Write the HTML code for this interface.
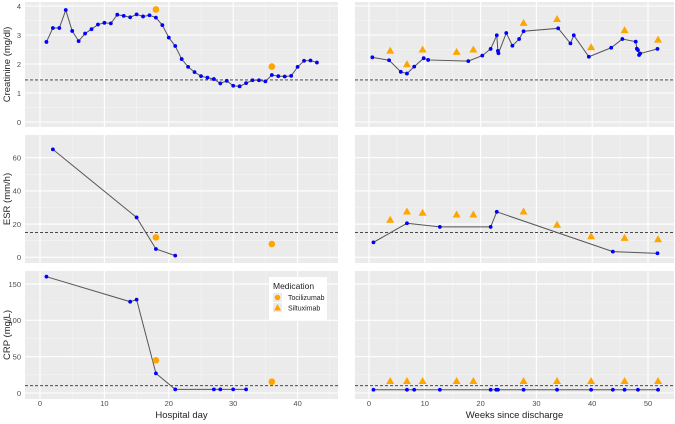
<!DOCTYPE html>
<html><head><meta charset="utf-8"><style>
html,body{margin:0;padding:0;background:#fff}
svg{display:block;font-family:"Liberation Sans",sans-serif}
</style></head><body>
<svg id="c" width="675" height="424" viewBox="0 0 675 424"></svg>
<script>
const creatHospDays=[1,2,3,4,5,6,7,8,9,10,11,12,13,14,15,16,17,18,19,20,21,22,23,24,25,26,27,28,29,30,31,32,33,34,35,36,37,38,39,40,41,42,43];
const creatHospVals=[2.76,3.24,3.24,3.86,3.14,2.79,3.05,3.2,3.36,3.42,3.40,3.70,3.66,3.61,3.71,3.64,3.68,3.60,3.34,2.91,2.62,2.17,1.90,1.72,1.58,1.53,1.48,1.33,1.42,1.25,1.23,1.34,1.44,1.44,1.40,1.62,1.58,1.57,1.59,1.90,2.11,2.12,2.05];
const creatTociDays=[18,36];
const creatTociVals=[3.88,1.91];
const creatWeeks=[0.6,3.6,5.7,6.8,8.1,9.8,10.6,17.8,20.3,21.8,22.9,23.1,23.2,24.6,25.7,26.9,27.7,33.9,36.1,36.7,39.4,43.4,45.4,47.8,48.0,48.2,48.4,48.6,51.7];
const creatWeekVals=[2.23,2.13,1.73,1.67,1.91,2.2,2.14,2.1,2.29,2.52,2.99,2.45,2.37,3.07,2.63,2.86,3.13,3.23,2.71,2.99,2.25,2.56,2.86,2.77,2.53,2.48,2.31,2.36,2.52];
const siltWeeks=[3.8,6.8,9.6,15.7,18.7,27.7,33.7,39.8,45.8,51.8];
const creatSiltVals=[2.46,1.99,2.5,2.42,2.5,3.42,3.55,2.58,3.17,2.84];
const esrHospDays=[2,15,18,21];
const esrHospVals=[65,24,5,1];
const esrTociDays=[18,36];
const esrTociVals=[12,8];
const esrWeeks=[0.8,6.8,12.7,21.8,22.9,43.7,51.7];
const esrWeekVals=[9,20.5,18.3,18.3,27.4,3.4,2.4];
const esrSiltVals=[22.6,27.6,26.8,25.8,25.8,27.6,19.6,12.7,11.7,10.9];
const crpHospDays=[1,14,15,18,21,27,28,30,32];
const crpHospVals=[160,125.6,128.4,27,5,5,5,5,5];
const crpTociDays=[18,36];
const crpTociVals=[45,15.5];
const crpWeeks=[0.8,6.8,8.1,12.7,21.8,22.8,23.1,27.7,33.7,39.8,43.7,45.8,48.2,51.8];
const crpWeekVals=[4.5,4.5,4.5,4.5,4.5,4.5,4.5,4.5,4.5,4.5,4.5,4.5,4.5,4.5];
const crpSiltVals=[16.5,16.5,16.5,16.5,16.5,16.5,16.5,16.5,16.5,16.5];
const xTicksLeft=[0,10,20,30,40];
const xTicksRight=[0,10,20,30,40,50];
const creatTicks=[0,1,2,3,4];
const esrTicks=[0,20,40,60];
const crpTicks=[0,50,100,150];
const creatRef=1.45, esrRef=15, crpRef=10;

const NS="http://www.w3.org/2000/svg";
const svg=document.getElementById('c');
function mk(tag,at,parent){const e=document.createElementNS(NS,tag);for(const k in at)e.setAttribute(k,at[k]);(parent||svg).appendChild(e);return e;}
const xL=d=>40+6.44*d;
const xR=w=>369+5.58*w;
const panelsX=[{x0:25,x1:338,sx:xL,dmin:-2.3,dmax:46.3,major:xTicksLeft,minor:[5,15,25,35,45]},
               {x0:355,x1:674,sx:xR,dmin:-2.5,dmax:54.7,major:xTicksRight,minor:[5,15,25,35,45]}];
const rows=[
 {y0:2,y1:127,sy:v=>122-29*v,ticks:creatTicks,minor:[0.5,1.5,2.5,3.5],ref:creatRef,title:"Creatinine (mg/dl)",fmt:v=>v},
 {y0:135,y1:263,sy:v=>257.3-1.66*v,ticks:esrTicks,minor:[10,30,50],ref:esrRef,title:"ESR (mm/h)",fmt:v=>v},
 {y0:271,y1:399,sy:v=>393-0.727*v,ticks:crpTicks,minor:[25,75,125],ref:crpRef,title:"CRP (mg/L)",fmt:v=>v}];
const series=[
 [{xs:creatHospDays,ys:creatHospVals,tx:creatTociDays,ty:creatTociVals,tri:false},{xs:creatWeeks,ys:creatWeekVals,tx:siltWeeks,ty:creatSiltVals,tri:true}],
 [{xs:esrHospDays,ys:esrHospVals,tx:esrTociDays,ty:esrTociVals,tri:false},{xs:esrWeeks,ys:esrWeekVals,tx:siltWeeks,ty:esrSiltVals,tri:true}],
 [{xs:crpHospDays,ys:crpHospVals,tx:crpTociDays,ty:crpTociVals,tri:false},{xs:crpWeeks,ys:crpWeekVals,tx:siltWeeks,ty:crpSiltVals,tri:true}]];

rows.forEach((r,ri)=>{
  panelsX.forEach((p,pi)=>{
    const g=mk('g',{});
    
    
    mk('rect',{x:p.x0,y:r.y0,width:p.x1-p.x0,height:r.y1-r.y0,fill:'#EBEBEB'},g);
    r.minor.forEach(v=>mk('line',{x1:p.x0,x2:p.x1,y1:r.sy(v),y2:r.sy(v),stroke:'#F5F5F5','stroke-width':0.6},g));
    p.minor.forEach(v=>mk('line',{y1:r.y0,y2:r.y1,x1:p.sx(v),x2:p.sx(v),stroke:'#F5F5F5','stroke-width':0.6},g));
    r.ticks.forEach(v=>mk('line',{x1:p.x0,x2:p.x1,y1:r.sy(v),y2:r.sy(v),stroke:'#fff','stroke-width':1.1},g));
    p.major.forEach(v=>mk('line',{y1:r.y0,y2:r.y1,x1:p.sx(v),x2:p.sx(v),stroke:'#fff','stroke-width':1.1},g));
    const rl=mk('line',{x1:p.x0,x2:p.x1,y1:r.sy(r.ref),y2:r.sy(r.ref),stroke:'#333','stroke-width':0.9,'stroke-dasharray':'3,2'},g);
    
    
    const s=series[ri][pi];
    const pts=s.xs.map((x,i)=>p.sx(x)+','+r.sy(s.ys[i])).join(' ');
    const ln=mk('polyline',{points:pts,fill:'none',stroke:'#555','stroke-width':1},g);
    
    
    s.xs.forEach((x,i)=>{
      const c=mk('circle',{cx:p.sx(x),cy:r.sy(s.ys[i]),r:1.9,fill:'#0000FF'},g);
      
      
    });
    s.tx.forEach((x,i)=>{
      const cx=p.sx(x),cy=r.sy(s.ty[i]);
      let m;
      if(s.tri){m=mk('polygon',{points:`${cx},${cy-4} ${cx-4},${cy+3} ${cx+4},${cy+3}`,fill:'#FFA500'},g);
        }
      else {m=mk('circle',{cx:cx,cy:cy,r:3.3,fill:'#FFA500'},g);
        }
      
    });
  });
  r.ticks.forEach(v=>{
    const t=mk('text',{x:21,y:r.sy(v)+2.8,'text-anchor':'end','font-size':7.5,fill:'#4D4D4D'});
    t.textContent=r.fmt(v);
    
    
  });
  const cy=(r.y0+r.y1)/2;
  const yt=mk('text',{x:0,y:0,transform:`translate(10,${cy}) rotate(-90)`,'text-anchor':'middle','font-size':9.5,fill:'#222'});
  yt.textContent=r.title;
  
  
});
panelsX.forEach((p,pi)=>{
  p.major.forEach(v=>{
    const t=mk('text',{x:p.sx(v),y:406,'text-anchor':'middle','font-size':7.5,fill:'#4D4D4D'});
    t.textContent=v;
    
    
  });
  const xt=mk('text',{x:(p.x0+p.x1)/2,y:418,'text-anchor':'middle','font-size':9.5,fill:'#222'});
  xt.textContent=pi?'Weeks since discharge':'Hospital day';
  
  
});
// legend
const lg=mk('g',{});


mk('rect',{x:269,y:277,width:58,height:43,fill:'#fff'},lg);
const lt=mk('text',{x:273,y:289,'font-size':8.5,fill:'#222'},lg);lt.textContent='Medication';
mk('rect',{x:273,y:293,width:9,height:9,fill:'#EBEBEB'},lg);
mk('rect',{x:273,y:303,width:9,height:9,fill:'#EBEBEB'},lg);
mk('circle',{cx:277.5,cy:297.5,r:2.8,fill:'#FFA500'},lg);
mk('polygon',{points:'277.5,304 274,310.5 281,310.5',fill:'#FFA500'},lg);
const e1=mk('text',{x:288,y:300,'font-size':7,fill:'#222'},lg);e1.textContent='Tocilizumab';


const e2=mk('text',{x:288,y:310.5,'font-size':7,fill:'#222'},lg);e2.textContent='Siltuximab';


</script>
</body></html>
